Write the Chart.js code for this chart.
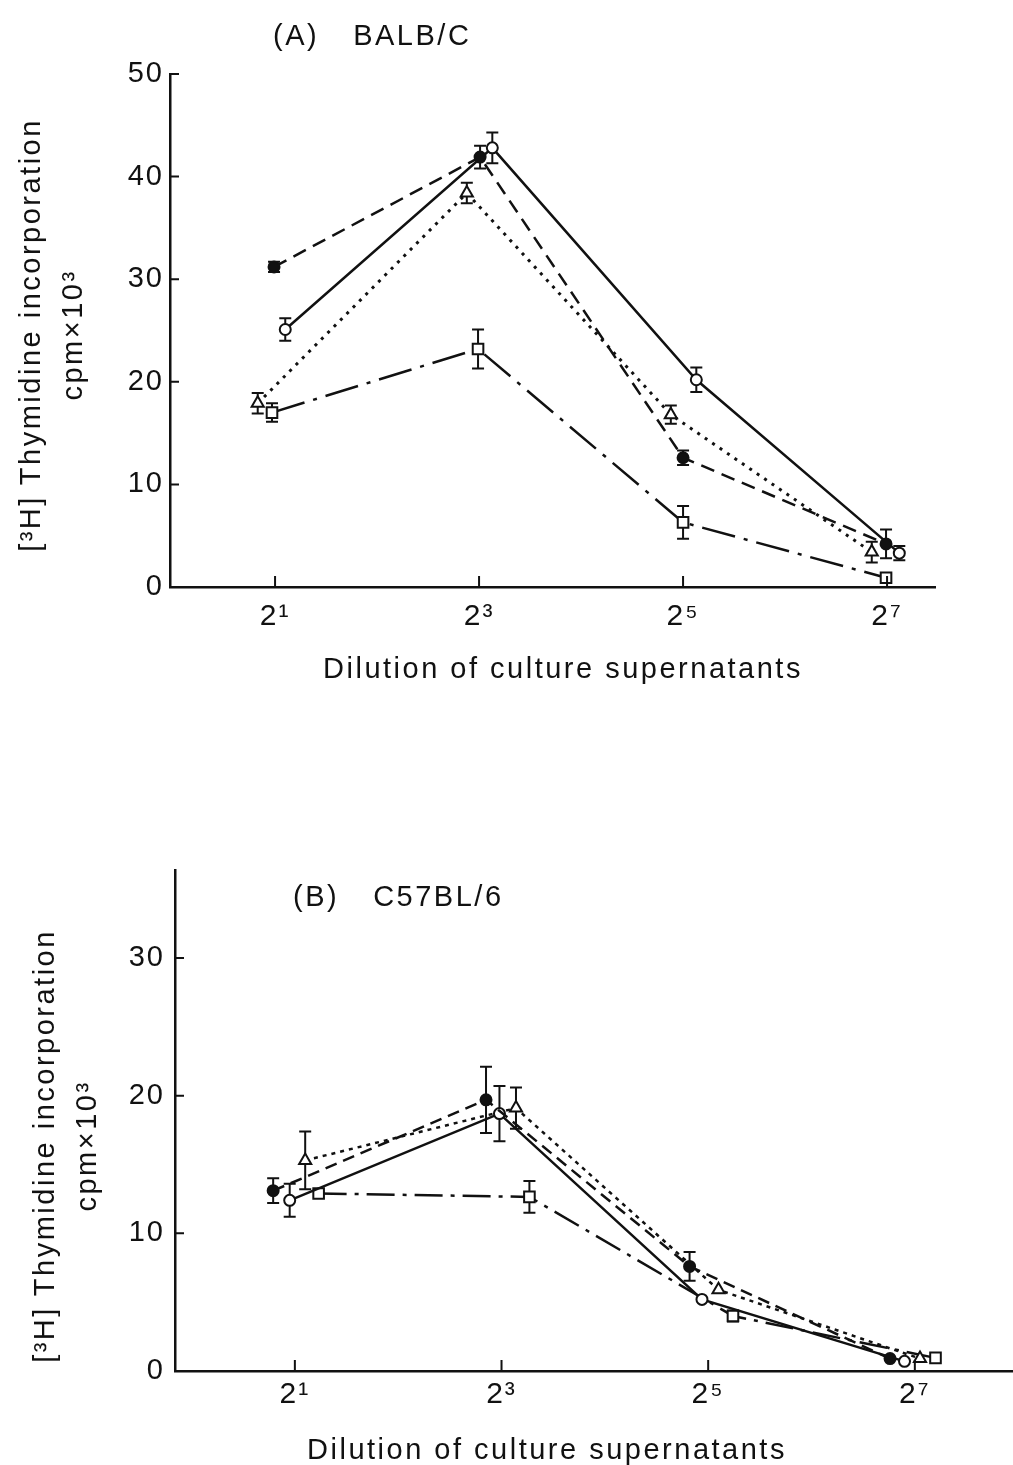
<!DOCTYPE html>
<html>
<head>
<meta charset="utf-8">
<script src="https://cdn.jsdelivr.net/npm/chart.js@4.4.1/dist/chart.umd.min.js"></script>
<style>
  body { margin: 0; background: #fff; }
  #page { position: relative; width: 1013px; height: 1465px; overflow: hidden; background: #fff;
          font-family: "Liberation Sans", Arial, Helvetica, sans-serif; color: #111; }
  canvas { position: absolute; left: 0; }
  #chartA { top: 0; }
  #chartB { top: 720px; }
  .txt { position: absolute; font-size: 29px; line-height: 34px; letter-spacing: 2.5px; white-space: nowrap; }
  .gap { display: inline-block; width: 34px; }
  .xt { width: 700px; text-align: center; }
  .yt { width: 600px; height: 84px; line-height: 42px; text-align: center; transform: rotate(-90deg); }
</style>
</head>
<body>
<div id="page">
  <canvas id="chartA" width="1013" height="720"></canvas>
  <canvas id="chartB" width="1025" height="745"></canvas>

  <div class="txt" style="left:273px; top:18px">(A)<span class="gap"></span>BALB/C</div>
  <div class="txt xt" style="left:213px; top:651px">Dilution of culture supernatants</div>
  <div class="txt yt" style="left:-249px; top:293px">[³H] Thymidine incorporation<br>cpm×10³</div>

  <div class="txt" style="left:293px; top:879px">(B)<span class="gap"></span>C57BL/6</div>
  <div class="txt xt" style="left:197px; top:1432px">Dilution of culture supernatants</div>
  <div class="txt yt" style="left:-235px; top:1104px">[³H] Thymidine incorporation<br>cpm×10³</div>
</div>

<script>
// x is log2 of the dilution; each series is nudged a little sideways as in the figure
const X_TICKS = [1, 3, 5, 7];
const X_TICK_LABELS = ['2¹', '2³', '2⁵', '2⁷'];
const Y_TICKS_A = [0, 10, 20, 30, 40, 50];
const Y_TICKS_B = [0, 10, 20, 30];

// (A) BALB/C
const A_FILLED_X = [0.99, 3.01, 5.0, 6.99];
const A_FILLED_Y = [31.2, 41.9, 12.6, 4.2];
const A_FILLED_ERR = [0.5, 1.1, 0.7, 1.4];
const A_OPEN_X = [1.10, 3.13, 5.13, 7.12];
const A_OPEN_Y = [25.1, 42.8, 20.2, 3.3];
const A_OPEN_ERR = [1.1, 1.5, 1.2, 0.7];
const A_TRI_X = [0.83, 2.88, 4.88, 6.85];
const A_TRI_Y = [17.9, 38.4, 16.8, 3.4];
const A_TRI_ERR = [1.0, 1.0, 0.9, 1.0];
const A_SQ_X = [0.97, 2.99, 5.0, 6.99];
const A_SQ_Y = [17.0, 23.2, 6.3, 0.9];
const A_SQ_ERR = [0.9, 1.9, 1.6, 0.4];

// (B) C57BL/6
const B_FILLED_X = [0.79, 2.85, 4.82, 6.76];
const B_FILLED_Y = [13.1, 19.7, 7.6, 0.9];
const B_FILLED_ERR = [0.9, 2.4, 1.05, 0];
const B_OPEN_X = [0.95, 2.98, 4.94, 6.90];
const B_OPEN_Y = [12.4, 18.7, 5.2, 0.7];
const B_OPEN_ERR = [1.2, 2.0, 0, 0];
const B_TRI_X = [1.10, 3.14, 5.10, 7.05];
const B_TRI_Y = [15.3, 19.1, 5.9, 0.9];
const B_TRI_ERR = [2.1, 1.5, 0, 0];
const B_SQ_X = [1.23, 3.27, 5.24, 7.20];
const B_SQ_Y = [12.9, 12.65, 4.0, 0.95];
const B_SQ_ERR = [0, 1.15, 0.4, 0];

const INK = '#111';
Chart.defaults.font.family = '"Liberation Sans", Arial, Helvetica, sans-serif';
Chart.defaults.color = INK;
Chart.defaults.animation = false;

function points(xs, ys) { return xs.map((x, i) => ({ x: x, y: ys[i] })); }

function series(xs, ys, errs, style) {
    return Object.assign({
        data: points(xs, ys), errors: errs, showLine: true, clip: false,
        borderColor: INK, borderWidth: 2.5, borderCapStyle: 'butt',
        pointBorderColor: INK, pointBorderWidth: 2, pointHoverRadius: 0,
    }, style);
}

const FILLED = { pointStyle: 'circle', pointRadius: 5.5, pointBackgroundColor: INK };
const OPEN = { pointStyle: 'circle', pointRadius: 5.5, pointBackgroundColor: '#fff' };
const TRI = { pointStyle: 'triangle', pointRadius: 7, pointBackgroundColor: '#fff' };
const SQ = { pointStyle: 'rect', pointRadius: 7.5, pointBackgroundColor: '#fff' };

// vertical SE bars, drawn under the markers
const errorBars = {
    id: 'errorBars',
    beforeDatasetsDraw(chart) {
        const { ctx, scales: { x, y } } = chart;
        ctx.save();
        ctx.strokeStyle = INK; ctx.lineWidth = 2; ctx.setLineDash([]);
        chart.data.datasets.forEach(ds => {
            (ds.errors || []).forEach((e, i) => {
                if (!e) return;
                const p = ds.data[i];
                const px = x.getPixelForValue(p.x);
                const top = y.getPixelForValue(p.y + e), bot = y.getPixelForValue(p.y - e);
                ctx.beginPath();
                ctx.moveTo(px, top); ctx.lineTo(px, bot);
                ctx.moveTo(px - 6, top); ctx.lineTo(px + 6, top);
                ctx.moveTo(px - 6, bot); ctx.lineTo(px + 6, bot);
                ctx.stroke();
            });
        });
        ctx.restore();
    }
};

// tick marks point into the plot, like the printed figure
const inwardTicks = {
    id: 'inwardTicks',
    beforeDraw(chart) { chart.ctx.letterSpacing = '2px'; },
    afterDraw(chart) {
        const { ctx, chartArea: a, scales: { x, y } } = chart;
        ctx.save();
        ctx.strokeStyle = INK; ctx.lineWidth = 2; ctx.setLineDash([]);
        ctx.beginPath();
        y.ticks.forEach(t => {
            const py = y.getPixelForValue(t.value);
            ctx.moveTo(a.left, py); ctx.lineTo(a.left + 9, py);
        });
        x.ticks.forEach(t => {
            const px = x.getPixelForValue(t.value);
            ctx.moveTo(px, a.bottom); ctx.lineTo(px, a.bottom - 11);
        });
        ctx.stroke();
        ctx.restore();
    }
};

function panelChart(id, opt) {
    return new Chart(document.getElementById(id), {
        type: 'scatter',
        data: { datasets: opt.datasets },
        options: {
            responsive: false,
            events: [],
            layout: { padding: opt.padding },
            plugins: { legend: { display: false }, tooltip: { enabled: false } },
            scales: {
                x: {
                    type: 'linear', min: opt.xMin, max: opt.xMax,
                    grid: { display: false, drawTicks: false },
                    border: { display: true, color: INK, width: 2.5 },
                    afterBuildTicks: s => { s.ticks = X_TICKS.map(v => ({ value: v })); },
                    afterFit: s => { s.height = opt.xHeight; },
                    ticks: { padding: opt.xPad, font: { size: 30 }, color: INK,
                             callback: (v, i) => X_TICK_LABELS[i] },
                },
                y: {
                    min: 0, max: opt.yMax,
                    grid: { display: false, drawTicks: false },
                    border: { display: true, color: INK, width: 2.5 },
                    afterBuildTicks: s => { s.ticks = opt.yTicks.map(v => ({ value: v })); },
                    afterFit: s => { s.width = opt.yWidth; },
                    ticks: { padding: opt.yPad, font: { size: 29 }, color: INK },
                },
            },
        },
        plugins: [errorBars, inwardTicks],
    });
}

panelChart('chartA', {
    padding: { top: 74, right: 78, bottom: 0, left: 0 },
    xMin: -0.03, xMax: 7.47, xHeight: 133, xPad: 12,
    yMax: 50, yTicks: Y_TICKS_A, yWidth: 170, yPad: 6,
    datasets: [
        series(A_FILLED_X, A_FILLED_Y, A_FILLED_ERR, Object.assign({ borderDash: [14, 8] }, FILLED)),
        series(A_OPEN_X, A_OPEN_Y, A_OPEN_ERR, Object.assign({}, OPEN)),
        series(A_TRI_X, A_TRI_Y, A_TRI_ERR, Object.assign({ borderDash: [3, 6], borderWidth: 3 }, TRI)),
        series(A_SQ_X, A_SQ_Y, A_SQ_ERR, Object.assign({ borderDash: [34, 9, 4, 9] }, SQ)),
    ],
});

// canvas B is a little wider than the page so the x axis runs off the right edge
panelChart('chartB', {
    padding: { top: 150, right: 12, bottom: 0, left: 0 },
    xMin: -0.16, xMax: 7.95, xHeight: 94, xPad: 6,
    yMax: 36.4, yTicks: Y_TICKS_B, yWidth: 175, yPad: 10,
    datasets: [
        series(B_FILLED_X, B_FILLED_Y, B_FILLED_ERR, Object.assign({ borderDash: [12, 7] }, FILLED)),
        series(B_OPEN_X, B_OPEN_Y, B_OPEN_ERR, Object.assign({}, OPEN)),
        series(B_TRI_X, B_TRI_Y, B_TRI_ERR, Object.assign({ borderDash: [4, 5] }, TRI)),
        series(B_SQ_X, B_SQ_Y, B_SQ_ERR, Object.assign({ borderDash: [28, 8, 4, 8] }, SQ)),
    ],
});
</script>
</body>
</html>
